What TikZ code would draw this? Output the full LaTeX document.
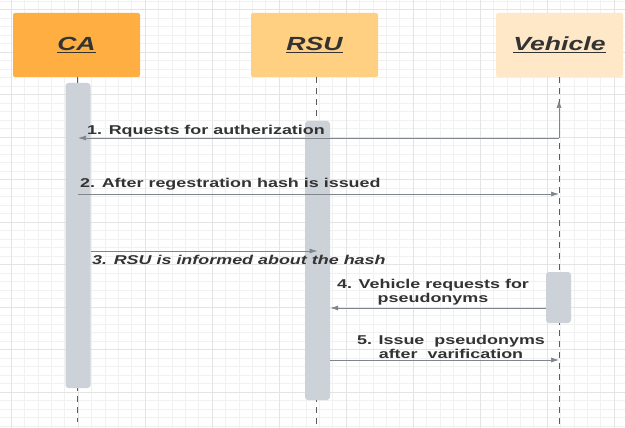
\documentclass[tikz,border=0pt]{standalone}
\usepackage{fontspec}
\setmainfont{Liberation Sans}[FakeStretch=1.4]
\usetikzlibrary{positioning,arrows.meta}
\definecolor{caorange}{HTML}{FFAF42}
\definecolor{rsuorange}{HTML}{FFCF82}
\definecolor{vehorange}{HTML}{FFE8C7}
\definecolor{bargray}{HTML}{CDD1D8}
\definecolor{txtgray}{HTML}{333333}
\definecolor{msggray}{HTML}{80848B}
\definecolor{lifegray}{HTML}{5A5C60}
\definecolor{gridminor}{HTML}{F1F1F1}
\definecolor{gridmajor}{HTML}{E4E4E4}
\begin{document}
\begin{tikzpicture}[
x=1pt, y=-1pt,
head/.style={fill=#1, rounded corners=2pt, minimum width=127pt, minimum height=64pt,
  text=txtgray, font=\fontsize{19}{22}\selectfont\bfseries\itshape},
bar/.style={fill=bargray, rounded corners=3pt, minimum width=25pt, inner sep=0pt},
life/.style={draw=lifegray, line width=0.7pt, dash pattern=on 6pt off 5pt},
msg/.style={draw=msggray, line width=0.7pt, -{Latex[length=8pt,width=5pt]}},
lbl/.style={text=txtgray, inner sep=0pt, align=center,
  font=\fontsize{12.8}{14}\selectfont\bfseries}
]
\useasboundingbox (0,0) rectangle (625,428);
\fill[white] (0,0) rectangle (625,428);
% grid
\foreach \i in {0,...,46}
  \draw[gridminor, line width=0.8pt] ({-2.2+13.4*\i},0) -- ++(0,428);
\foreach \i in {0,...,50}
  \draw[gridminor, line width=0.8pt] (0,{1+8.5*\i}) -- ++(625,0);
\foreach \i in {0,...,9}
  \draw[gridmajor, line width=0.9pt] ({11.2+67*\i},0) -- ++(0,428);
\foreach \i in {0,...,10}
  \draw[gridmajor, line width=0.9pt] (0,{9.5+42.5*\i}) -- ++(625,0);

% heads
\node[head=caorange] (ca) at (76.5,45) {\underline{CA}};
\node[head=rsuorange] (rsu) at (314.5,45) {\underline{RSU}};
\node[head=vehorange] (veh) at (559.5,45) {\underline{Vehicle}};

% lifelines
\coordinate (caend) at (77,422);
\coordinate (rsuend) at (316,428);
\coordinate (vehend) at (559,428);
\draw[life] (ca.south -| caend) -- (caend);
\draw[life] (rsu.south -| rsuend) -- (rsuend);
\draw[life] (veh.south -| vehend) -- (vehend);
\draw[msg] (vehend |- 0,138) -- (vehend |- 0,100);

% activations
\node[bar, minimum height=305pt] (cabar) at (78,235.5) {};
\node[bar, minimum height=279pt] (rsubar) at (317.5,260.5) {};
\node[bar, minimum height=51pt] (vehbar) at (558.5,297.5) {};

% messages
\draw[msg] (vehend |- 0,138) -- (cabar |- 0,138);
\node[lbl, anchor=west] (l1) at (87,131) {1. Rquests for autherization};
\draw[msg] (cabar |- 0,194) -- (vehend |- 0,194);
\node[lbl, anchor=west] (l2) at (80,184) {2. After regestration hash is issued};
\draw[msg] (cabar.east |- 0,251) -- (rsubar |- 0,251);
\node[lbl, anchor=west, font=\fontsize{12.8}{14}\selectfont\bfseries\itshape] (l3) at (92,260) {3. RSU is informed about the hash};
\draw[msg] (vehbar.west |- 0,308) -- (rsubar.east |- 0,308);
\node[lbl] (l4) at (433,292) {4. Vehicle requests for\\pseudonyms};
\draw[msg] (rsubar.east |- 0,360) -- (vehend |- 0,360);
\node[lbl] (l5) at (451,347) {5. Issue\ \ pseudonyms\\after\ \ varification};
\end{tikzpicture}
\end{document}
